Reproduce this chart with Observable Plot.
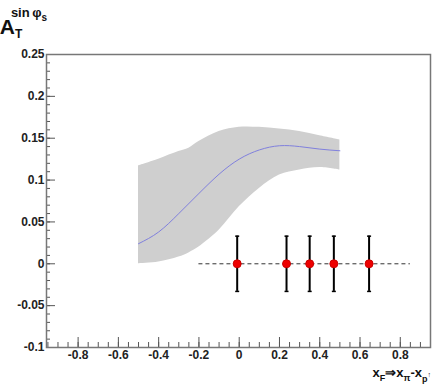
<!DOCTYPE html>
<html>
<head>
<meta charset="utf-8">
<script src="https://cdn.jsdelivr.net/npm/d3@7"></script>
<script src="https://cdn.jsdelivr.net/npm/@observablehq/plot@0.6"></script>
<style>
  html, body { margin: 0; padding: 0; background: #fff; }
  #chart { width: 435px; height: 384px; }
  svg text { font-family: "Liberation Sans", Arial, sans-serif; }
</style>
</head>
<body>
<div id="chart"></div>
<script>
// ---- data ----
const bandX    = [-0.5, -0.4, -0.3, -0.25, -0.2, -0.1, 0, 0.1, 0.2, 0.3, 0.4, 0.5];
const bandLow  = [0.000, 0.002, 0.008, 0.013, 0.020, 0.040, 0.068, 0.090, 0.106, 0.112, 0.115, 0.112];
const bandHigh = [0.117, 0.125, 0.134, 0.138, 0.146, 0.158, 0.163, 0.163, 0.161, 0.158, 0.153, 0.148];

const curveX   = [-0.5, -0.4, -0.3, -0.2, -0.1, 0, 0.1, 0.2, 0.3, 0.4, 0.5];
const curveY   = [0.024, 0.038, 0.060, 0.084, 0.107, 0.125, 0.136, 0.141, 0.140, 0.137, 0.135];

const pointX   = [-0.01, 0.235, 0.35, 0.47, 0.645];
const pointY   = [0, 0, 0, 0, 0];
const pointErr = [0.033, 0.033, 0.033, 0.033, 0.033];

const zeroLineX = [-0.2, 0.85];

const xTicks = [-0.8, -0.6, -0.4, -0.2, 0, 0.2, 0.4, 0.6, 0.8];
const yTicks = [-0.1, -0.05, 0, 0.05, 0.1, 0.15, 0.2, 0.25];
const xMinor = d3.range(-19, 20).map(i => +(i * 0.05).toFixed(2)).filter(v => v > -0.96 && v < 0.95);
const yMinor = d3.range(-10, 26).map(i => +(i * 0.01).toFixed(2));

// ---- tables built from the arrays ----
const band = bandX.map((x, i) => ({x, lo: bandLow[i], hi: bandHigh[i]}));
const curve = curveX.map((x, i) => ({x, y: curveY[i]}));
const points = pointX.map((x, i) => ({x, y: pointY[i], lo: pointY[i] - pointErr[i], hi: pointY[i] + pointErr[i]}));
const zeroLine = [{x1: zeroLineX[0], x2: zeroLineX[1], y: 0}];

const fmt = d => String(+d.toFixed(2));
const capSymbol = { draw(ctx) { ctx.moveTo(-2, 0); ctx.lineTo(2, 0); } };

const axisColor = "#555";

const chart = Plot.plot({
  width: 435,
  height: 384,
  marginLeft: 46,
  marginRight: 5,
  marginTop: 54,
  marginBottom: 37,
  x: {domain: [-0.957, 0.95]},
  y: {domain: [-0.1, 0.25]},
  style: {fontFamily: "Liberation Sans", fontSize: "12px", fontWeight: "bold", color: "#222", background: "#fff"},
  marks: [
    Plot.areaY(band, {x: "x", y1: "lo", y2: "hi", fill: "#cfcfcf", curve: "catmull-rom"}),
    Plot.line(curve, {x: "x", y: "y", stroke: "#8080dd", strokeWidth: 1, curve: "natural"}),
    Plot.ruleY(zeroLine, {x1: "x1", x2: "x2", y: "y", stroke: "#333", strokeWidth: 1, strokeDasharray: "4,3"}),
    Plot.ruleX(points, {x: "x", y1: "lo", y2: "hi", stroke: "#000", strokeWidth: 2}),
    Plot.dot(points, {x: "x", y: "hi", symbol: capSymbol, stroke: "#000", strokeWidth: 1.5}),
    Plot.dot(points, {x: "x", y: "lo", symbol: capSymbol, stroke: "#000", strokeWidth: 1.5}),
    Plot.dot(points, {x: "x", y: "y", r: 4, fill: "#ee0000", stroke: "#cc0000", strokeWidth: 1}),
    // axes: ticks pointing inward (ROOT style)
    Plot.axisX(xTicks, {tickSize: -10, tickPadding: 13, tickFormat: fmt, stroke: axisColor, fill: "#222", fontWeight: "bold"}),
    Plot.axisX(xMinor, {tickSize: -5, tickFormat: () => "", stroke: axisColor}),
    Plot.axisY(yTicks, {tickSize: -9, tickPadding: 11, tickFormat: fmt, stroke: axisColor, fill: "#222", fontWeight: "bold"}),
    Plot.axisY(yMinor, {tickSize: -4, tickFormat: () => "", stroke: axisColor}),
    Plot.frame({stroke: "#777", strokeWidth: 1.5})
  ]
});
document.getElementById("chart").appendChild(chart);

// ---- title and x-axis label as real text ----
const svg = d3.select(chart);
const title = svg.append("text").attr("x", 11).attr("y", 34)
  .attr("font-weight", "bold").attr("fill", "#111")
  .style("font-family", "Liberation Sans, Arial, sans-serif");
title.append("tspan").attr("font-size", 21).text("A");
title.append("tspan").attr("font-size", 12).attr("dy", 4).text("T");
const sup = svg.append("text").attr("x", 29).attr("y", 17)
  .attr("font-weight", "bold").attr("fill", "#111")
  .style("font-family", "Liberation Sans, Arial, sans-serif");
sup.append("tspan").attr("font-size", 13).text("sin\u2009\u03c6");
sup.append("tspan").attr("font-size", 10).attr("dy", 4).text("s");

const xl = svg.append("text").attr("x", 431).attr("y", 377).attr("text-anchor", "end")
  .attr("font-weight", "bold").attr("fill", "#111")
  .style("font-family", "Liberation Sans, Arial, sans-serif");
xl.append("tspan").attr("font-size", 13).text("x");
xl.append("tspan").attr("font-size", 9).attr("dy", 4).text("F");
xl.append("tspan").attr("font-size", 13).attr("dy", -4).text("\u21d2x");
xl.append("tspan").attr("font-size", 9).attr("dy", 4).text("\u03c0");
xl.append("tspan").attr("font-size", 13).attr("dy", -4).text("-x");
xl.append("tspan").attr("font-size", 9).attr("dy", 5).text("p");
xl.append("tspan").attr("font-size", 7).attr("dy", -5).text("\u2191");
</script>
</body>
</html>
